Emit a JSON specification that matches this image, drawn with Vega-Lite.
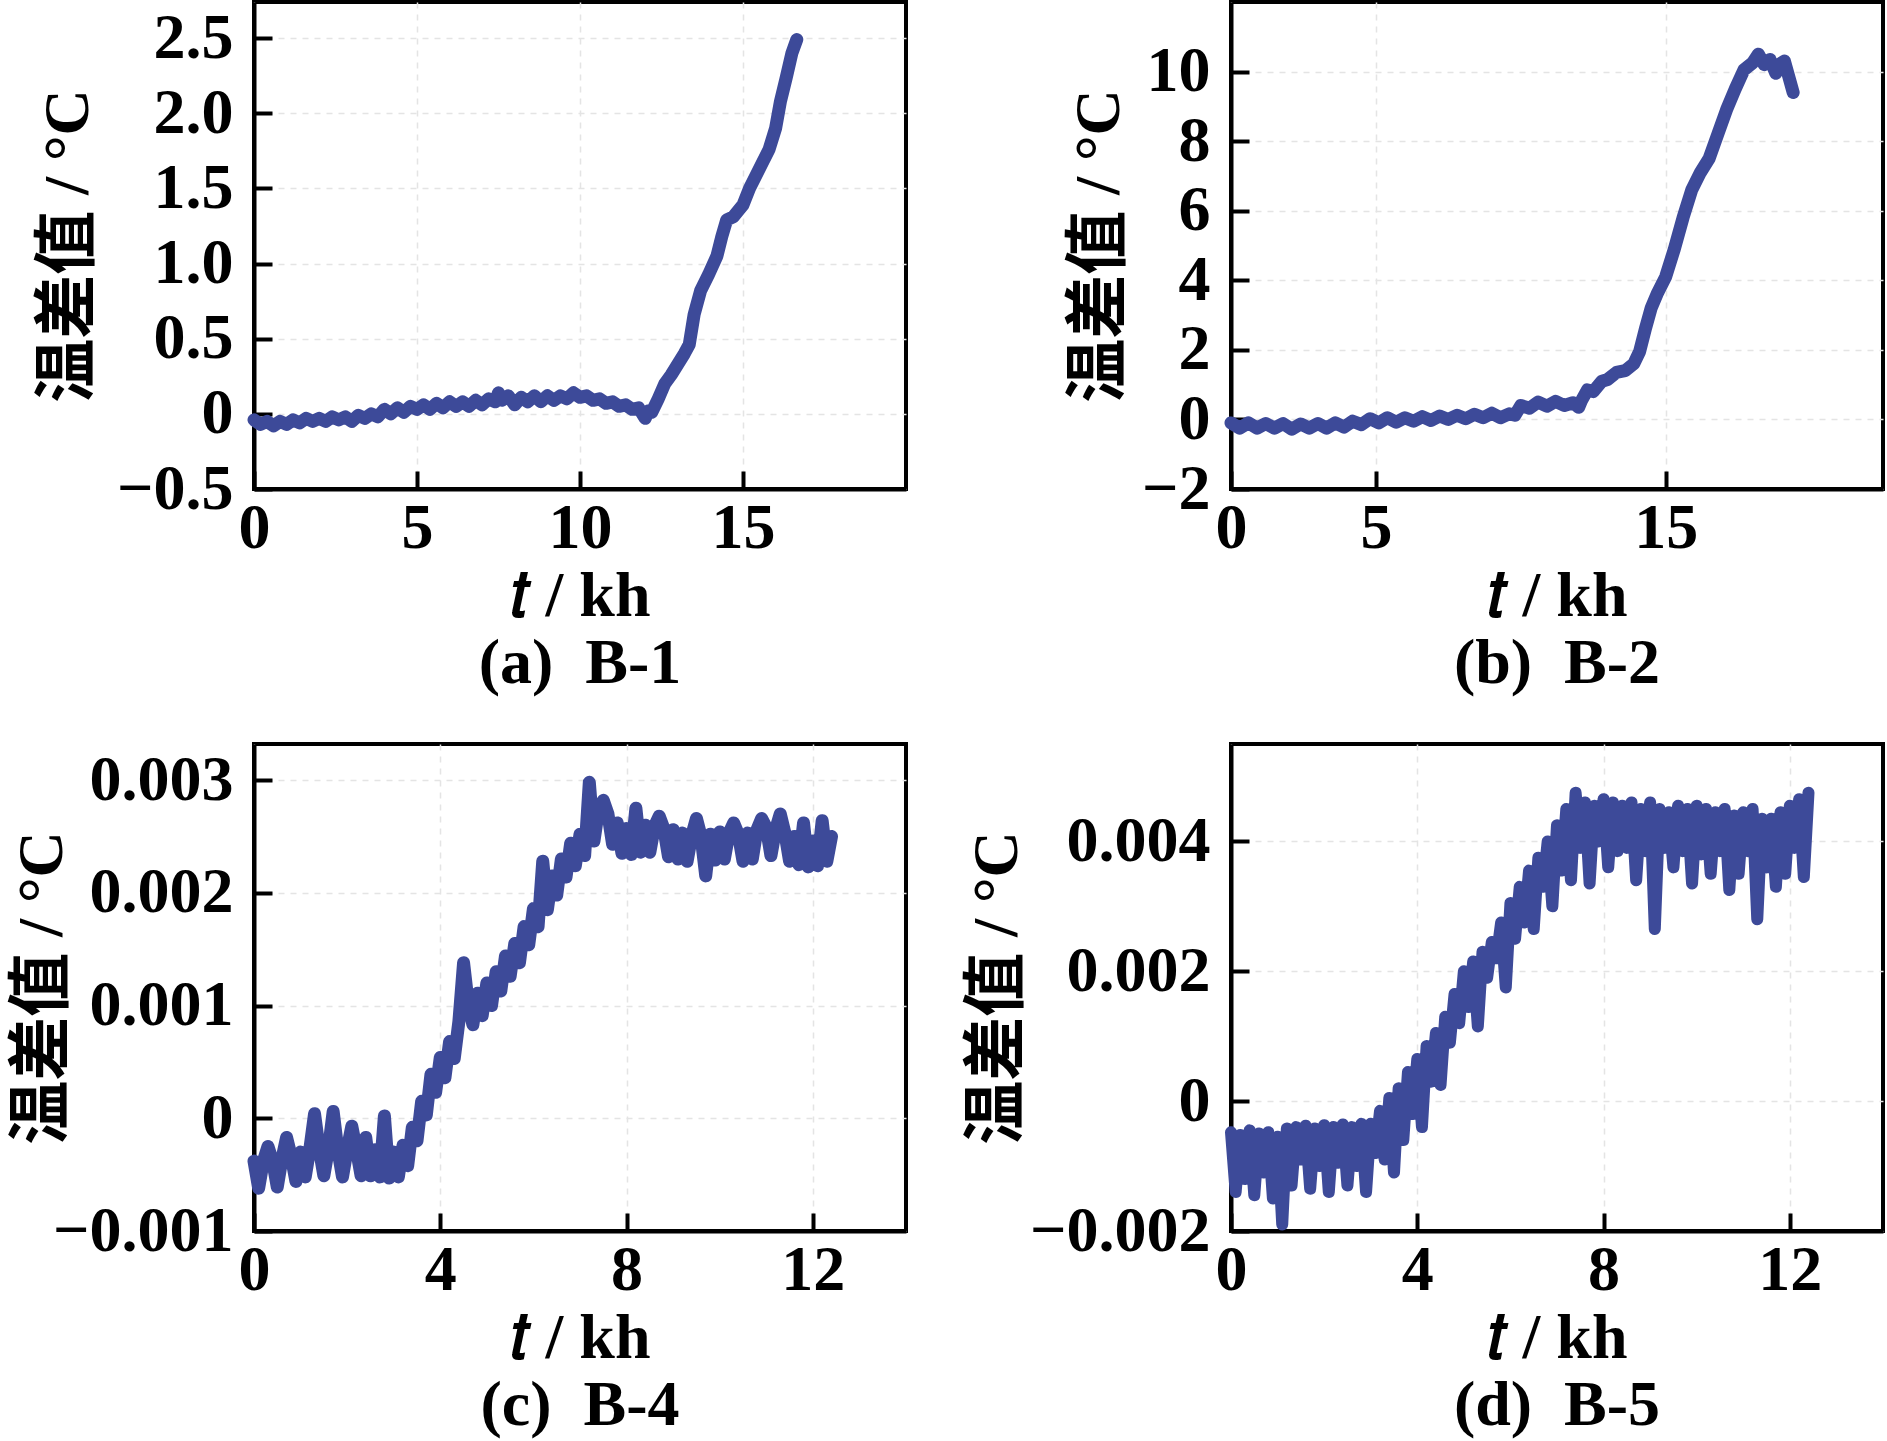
{
  "$schema": "https://vega.github.io/schema/vega-lite/v6.json",
  "background": "white",
  "padding": {"left": 7, "top": 0, "right": 5, "bottom": 0},
  "columns": 2,
  "spacing": {"row": 255, "column": 325},
  "bounds": "flush",
  "config": {
    "view": {"stroke": "black", "strokeWidth": 4},
    "axis": {
      "domainColor": "black", "domainWidth": 4,
      "tickColor": "black", "tickWidth": 4, "tickSize": -18,
      "labelFont": "Liberation Serif", "labelFontSize": 64, "labelFontWeight": "bold", "labelColor": "black",
      "labelFlush": false, "labelOverlap": false, "labelBound": false, "labelLimit": 0,
      "titleFont": "Liberation Serif, Noto Sans CJK SC", "titleFontSize": 64,
      "titleFontWeight": "bold", "titleColor": "black",
      "grid": true, "gridColor": "#e4e4e4", "gridDash": [6, 6], "gridWidth": 1.5
    },
    "axisX": {"labelPadding": 25, "titleBaseline": "alphabetic", "titleY": 126},
    "axisY": {"labelPadding": 39},
    "title": {
      "font": "Liberation Serif", "fontSize": 64, "fontWeight": "bold",
      "color": "black", "orient": "bottom", "anchor": "middle", "offset": 4
    },
    "line": {"color": "#3d4a99", "strokeWidth": 13, "strokeJoin": "round", "strokeCap": "round"}
  },
  "datasets": {
    "a": [
      {"t":0,"v":-0.04},{"t":0.2,"v":-0.07},{"t":0.4,"v":-0.05},{"t":0.6,"v":-0.08},{"t":0.8,"v":-0.05},
      {"t":1,"v":-0.07},{"t":1.2,"v":-0.04},{"t":1.4,"v":-0.06},{"t":1.6,"v":-0.03},{"t":1.8,"v":-0.05},
      {"t":2,"v":-0.03},{"t":2.2,"v":-0.05},{"t":2.4,"v":-0.02},{"t":2.6,"v":-0.04},{"t":2.8,"v":-0.02},
      {"t":3,"v":-0.05},{"t":3.2,"v":-0.01},{"t":3.4,"v":-0.03},{"t":3.6,"v":0},{"t":3.8,"v":-0.02},
      {"t":4,"v":0.03},{"t":4.2,"v":0},{"t":4.4,"v":0.04},{"t":4.6,"v":0.01},{"t":4.8,"v":0.05},
      {"t":5,"v":0.03},{"t":5.2,"v":0.06},{"t":5.4,"v":0.03},{"t":5.6,"v":0.07},{"t":5.8,"v":0.04},
      {"t":6,"v":0.08},{"t":6.2,"v":0.05},{"t":6.4,"v":0.08},{"t":6.6,"v":0.05},{"t":6.8,"v":0.09},
      {"t":7,"v":0.06},{"t":7.2,"v":0.1},{"t":7.4,"v":0.08},{"t":7.5,"v":0.14},{"t":7.6,"v":0.09},
      {"t":7.8,"v":0.12},{"t":8,"v":0.06},{"t":8.2,"v":0.11},{"t":8.4,"v":0.08},{"t":8.6,"v":0.12},
      {"t":8.8,"v":0.08},{"t":9,"v":0.12},{"t":9.2,"v":0.09},{"t":9.4,"v":0.12},{"t":9.6,"v":0.1},
      {"t":9.8,"v":0.14},{"t":10,"v":0.11},{"t":10.2,"v":0.12},{"t":10.4,"v":0.09},{"t":10.6,"v":0.1},
      {"t":10.8,"v":0.07},{"t":11,"v":0.08},{"t":11.2,"v":0.05},{"t":11.4,"v":0.06},{"t":11.6,"v":0.03},
      {"t":11.8,"v":0.04},{"t":12,"v":-0.03},{"t":12.1,"v":0.02},{"t":12.2,"v":0.01},{"t":12.4,"v":0.1},
      {"t":12.6,"v":0.2},{"t":12.8,"v":0.26},{"t":13,"v":0.33},{"t":13.2,"v":0.4},{"t":13.35,"v":0.46},
      {"t":13.5,"v":0.66},{"t":13.7,"v":0.82},{"t":13.95,"v":0.93},{"t":14.2,"v":1.05},{"t":14.35,"v":1.18},
      {"t":14.5,"v":1.29},{"t":14.7,"v":1.31},{"t":15,"v":1.39},{"t":15.2,"v":1.5},{"t":15.5,"v":1.63},
      {"t":15.8,"v":1.76},{"t":16,"v":1.9},{"t":16.15,"v":2.08},{"t":16.33,"v":2.24},{"t":16.5,"v":2.4},
      {"t":16.65,"v":2.49}
    ],
    "b": [
      {"t":0,"v":-0.1},{"t":0.3,"v":-0.25},{"t":0.6,"v":-0.1},{"t":0.9,"v":-0.25},{"t":1.2,"v":-0.12},
      {"t":1.5,"v":-0.25},{"t":1.8,"v":-0.12},{"t":2.1,"v":-0.28},{"t":2.4,"v":-0.13},{"t":2.7,"v":-0.25},
      {"t":3,"v":-0.12},{"t":3.3,"v":-0.25},{"t":3.6,"v":-0.1},{"t":3.9,"v":-0.22},{"t":4.2,"v":-0.05},
      {"t":4.5,"v":-0.15},{"t":4.8,"v":0.02},{"t":5.1,"v":-0.1},{"t":5.4,"v":0.05},{"t":5.7,"v":-0.08},
      {"t":6,"v":0.05},{"t":6.3,"v":-0.05},{"t":6.6,"v":0.08},{"t":6.9,"v":-0.03},{"t":7.2,"v":0.1},
      {"t":7.5,"v":0},{"t":7.8,"v":0.12},{"t":8.1,"v":0.02},{"t":8.4,"v":0.15},{"t":8.7,"v":0.05},
      {"t":9,"v":0.18},{"t":9.3,"v":0.05},{"t":9.6,"v":0.16},{"t":9.8,"v":0.12},{"t":10,"v":0.4},
      {"t":10.3,"v":0.32},{"t":10.6,"v":0.5},{"t":10.9,"v":0.38},{"t":11.2,"v":0.52},{"t":11.5,"v":0.4},
      {"t":11.8,"v":0.48},{"t":12,"v":0.35},{"t":12.1,"v":0.55},{"t":12.3,"v":0.85},{"t":12.5,"v":0.8},
      {"t":12.8,"v":1.1},{"t":13,"v":1.15},{"t":13.3,"v":1.35},{"t":13.6,"v":1.4},{"t":13.9,"v":1.6},
      {"t":14.1,"v":1.95},{"t":14.3,"v":2.6},{"t":14.5,"v":3.2},{"t":14.7,"v":3.6},{"t":15,"v":4.1},
      {"t":15.3,"v":4.9},{"t":15.6,"v":5.8},{"t":15.9,"v":6.6},{"t":16.2,"v":7.1},{"t":16.5,"v":7.5},
      {"t":16.8,"v":8.2},{"t":17.1,"v":8.9},{"t":17.4,"v":9.5},{"t":17.7,"v":10.05},{"t":18,"v":10.25},
      {"t":18.2,"v":10.5},{"t":18.4,"v":10.2},{"t":18.6,"v":10.35},{"t":18.8,"v":9.95},{"t":19,"v":10.25},
      {"t":19.1,"v":10.3},{"t":19.3,"v":9.7},{"t":19.4,"v":9.4}
    ],
    "c": [
      {"t":0,"v":-0.00038},{"t":0.1,"v":-0.00062},{"t":0.2,"v":-0.00038},{"t":0.3,"v":-0.00025},{"t":0.4,"v":-0.00038},
      {"t":0.5,"v":-0.00061},{"t":0.6,"v":-0.00036},{"t":0.7,"v":-0.00017},{"t":0.8,"v":-0.00034},{"t":0.9,"v":-0.00056},
      {"t":1,"v":-0.0003},{"t":1.1,"v":-0.00052},{"t":1.2,"v":-0.00027},{"t":1.3,"v":0.00004},{"t":1.4,"v":-0.00027},
      {"t":1.5,"v":-0.00051},{"t":1.6,"v":-0.00027},{"t":1.7,"v":0.00006},{"t":1.8,"v":-0.00028},{"t":1.9,"v":-0.00052},
      {"t":2,"v":-0.00028},{"t":2.1,"v":-0.00007},{"t":2.2,"v":-0.00028},{"t":2.3,"v":-0.00051},{"t":2.4,"v":-0.00017},
      {"t":2.5,"v":-0.00051},{"t":2.6,"v":-0.00028},{"t":2.7,"v":-0.00052},{"t":2.8,"v":0.00002},{"t":2.9,"v":-0.00053},
      {"t":3,"v":-0.0003},{"t":3.1,"v":-0.00052},{"t":3.2,"v":-0.00024},{"t":3.3,"v":-0.00042},{"t":3.4,"v":-0.00008},
      {"t":3.5,"v":-0.0002},{"t":3.6,"v":0.00015},{"t":3.7,"v":0.00003},{"t":3.8,"v":0.00039},{"t":3.9,"v":0.00023},
      {"t":4,"v":0.00054},{"t":4.1,"v":0.00036},{"t":4.2,"v":0.00068},{"t":4.3,"v":0.00053},{"t":4.4,"v":0.00086},
      {"t":4.5,"v":0.00138},{"t":4.6,"v":0.00102},{"t":4.7,"v":0.00083},{"t":4.8,"v":0.00111},{"t":4.9,"v":0.00091},
      {"t":5,"v":0.0012},{"t":5.1,"v":0.001},{"t":5.2,"v":0.0013},{"t":5.3,"v":0.00113},{"t":5.4,"v":0.00144},
      {"t":5.5,"v":0.00126},{"t":5.6,"v":0.00155},{"t":5.7,"v":0.00138},{"t":5.8,"v":0.0017},{"t":5.9,"v":0.00154},
      {"t":6,"v":0.00186},{"t":6.1,"v":0.0017},{"t":6.2,"v":0.00228},{"t":6.3,"v":0.00185},{"t":6.4,"v":0.00215},
      {"t":6.5,"v":0.00198},{"t":6.6,"v":0.0023},{"t":6.7,"v":0.00214},{"t":6.8,"v":0.00244},{"t":6.9,"v":0.00224},
      {"t":7,"v":0.00252},{"t":7.1,"v":0.00233},{"t":7.2,"v":0.00298},{"t":7.3,"v":0.00246},{"t":7.4,"v":0.00274},
      {"t":7.5,"v":0.00282},{"t":7.6,"v":0.0027},{"t":7.7,"v":0.00243},{"t":7.8,"v":0.00262},{"t":7.9,"v":0.00235},
      {"t":8,"v":0.00257},{"t":8.1,"v":0.00234},{"t":8.2,"v":0.00275},{"t":8.3,"v":0.00236},{"t":8.4,"v":0.0026},
      {"t":8.5,"v":0.00236},{"t":8.6,"v":0.00259},{"t":8.7,"v":0.00268},{"t":8.8,"v":0.00257},{"t":8.9,"v":0.00232},
      {"t":9,"v":0.00256},{"t":9.1,"v":0.0023},{"t":9.2,"v":0.00253},{"t":9.3,"v":0.00228},{"t":9.4,"v":0.00251},
      {"t":9.5,"v":0.00266},{"t":9.6,"v":0.0025},{"t":9.7,"v":0.00215},{"t":9.8,"v":0.00252},{"t":9.9,"v":0.00229},
      {"t":10,"v":0.00254},{"t":10.1,"v":0.0023},{"t":10.2,"v":0.00253},{"t":10.3,"v":0.00262},{"t":10.4,"v":0.00252},
      {"t":10.5,"v":0.00228},{"t":10.6,"v":0.00253},{"t":10.7,"v":0.0023},{"t":10.8,"v":0.00256},{"t":10.9,"v":0.00266},
      {"t":11,"v":0.00258},{"t":11.1,"v":0.00233},{"t":11.2,"v":0.00256},{"t":11.3,"v":0.0027},{"t":11.4,"v":0.00253},
      {"t":11.5,"v":0.00228},{"t":11.6,"v":0.0025},{"t":11.7,"v":0.00225},{"t":11.8,"v":0.00262},{"t":11.9,"v":0.00223},
      {"t":12,"v":0.00246},{"t":12.1,"v":0.00224},{"t":12.2,"v":0.00264},{"t":12.3,"v":0.00228},{"t":12.4,"v":0.0025}
    ],
    "d": [
      {"t":0,"v":-0.00048},{"t":0.1,"v":-0.0014},{"t":0.2,"v":-0.00052},{"t":0.3,"v":-0.0012},{"t":0.4,"v":-0.00045},
      {"t":0.5,"v":-0.00145},{"t":0.6,"v":-0.0005},{"t":0.7,"v":-0.0011},{"t":0.8,"v":-0.00048},{"t":0.9,"v":-0.0015},
      {"t":1,"v":-0.00055},{"t":1.1,"v":-0.0019},{"t":1.2,"v":-0.00042},{"t":1.3,"v":-0.0013},{"t":1.4,"v":-0.0004},
      {"t":1.5,"v":-0.0009},{"t":1.6,"v":-0.00038},{"t":1.7,"v":-0.00135},{"t":1.8,"v":-0.00042},{"t":1.9,"v":-0.001},
      {"t":2,"v":-0.00037},{"t":2.1,"v":-0.0014},{"t":2.2,"v":-0.0004},{"t":2.3,"v":-0.00095},{"t":2.4,"v":-0.00036},
      {"t":2.5,"v":-0.0013},{"t":2.6,"v":-0.0004},{"t":2.7,"v":-0.001},{"t":2.8,"v":-0.00035},{"t":2.9,"v":-0.0014},
      {"t":3,"v":-0.00035},{"t":3.1,"v":-0.0008},{"t":3.2,"v":-0.00015},{"t":3.3,"v":-0.0009},{"t":3.4,"v":0.00005},
      {"t":3.5,"v":-0.0011},{"t":3.6,"v":0.0002},{"t":3.7,"v":-0.0006},{"t":3.8,"v":0.00045},{"t":3.9,"v":-0.0002},
      {"t":4,"v":0.00065},{"t":4.1,"v":-0.0004},{"t":4.2,"v":0.00085},{"t":4.3,"v":0.0003},{"t":4.4,"v":0.00105},
      {"t":4.5,"v":0.00025},{"t":4.6,"v":0.0013},{"t":4.7,"v":0.0009},{"t":4.8,"v":0.00165},{"t":4.9,"v":0.0012},
      {"t":5,"v":0.002},{"t":5.1,"v":0.00145},{"t":5.2,"v":0.00215},{"t":5.3,"v":0.00115},{"t":5.4,"v":0.0023},
      {"t":5.5,"v":0.0019},{"t":5.6,"v":0.00245},{"t":5.7,"v":0.0022},{"t":5.8,"v":0.00275},{"t":5.9,"v":0.00175},
      {"t":6,"v":0.00305},{"t":6.1,"v":0.0025},{"t":6.2,"v":0.0033},{"t":6.3,"v":0.00275},{"t":6.4,"v":0.00355},
      {"t":6.5,"v":0.00265},{"t":6.6,"v":0.00375},{"t":6.7,"v":0.0033},{"t":6.8,"v":0.004},{"t":6.9,"v":0.003},
      {"t":7,"v":0.00425},{"t":7.1,"v":0.00355},{"t":7.2,"v":0.0045},{"t":7.3,"v":0.0034},{"t":7.4,"v":0.00475},
      {"t":7.5,"v":0.0039},{"t":7.6,"v":0.0046},{"t":7.7,"v":0.00335},{"t":7.8,"v":0.00455},{"t":7.9,"v":0.004},
      {"t":8,"v":0.00465},{"t":8.1,"v":0.0036},{"t":8.2,"v":0.0046},{"t":8.3,"v":0.00385},{"t":8.4,"v":0.00455},
      {"t":8.5,"v":0.0039},{"t":8.6,"v":0.0046},{"t":8.7,"v":0.0034},{"t":8.8,"v":0.0045},{"t":8.9,"v":0.00385},
      {"t":9,"v":0.0046},{"t":9.1,"v":0.00265},{"t":9.2,"v":0.0045},{"t":9.3,"v":0.0039},{"t":9.4,"v":0.00445},
      {"t":9.5,"v":0.0036},{"t":9.6,"v":0.00455},{"t":9.7,"v":0.00385},{"t":9.8,"v":0.0045},{"t":9.9,"v":0.00335},
      {"t":10,"v":0.00455},{"t":10.1,"v":0.0038},{"t":10.2,"v":0.0045},{"t":10.3,"v":0.0035},{"t":10.4,"v":0.00445},
      {"t":10.5,"v":0.00385},{"t":10.6,"v":0.0045},{"t":10.7,"v":0.00325},{"t":10.8,"v":0.0044},{"t":10.9,"v":0.0035},
      {"t":11,"v":0.00445},{"t":11.1,"v":0.00385},{"t":11.2,"v":0.0045},{"t":11.3,"v":0.0028},{"t":11.4,"v":0.00435},
      {"t":11.5,"v":0.0036},{"t":11.6,"v":0.00435},{"t":11.7,"v":0.0033},{"t":11.8,"v":0.00445},{"t":11.9,"v":0.0035},
      {"t":12,"v":0.00455},{"t":12.1,"v":0.0039},{"t":12.2,"v":0.00465},{"t":12.3,"v":0.00345},{"t":12.4,"v":0.00475}
    ]
  },
  "concat": [
    {
      "width": 652, "height": 487,
      "data": {"name": "a"},
      "title": "(a)\u00a0\u00a0B-1",
      "mark": "line",
      "encoding": {
        "x": {"field": "t", "type": "quantitative",
          "scale": {"domain": [0, 20], "nice": false},
          "axis": {"values": [0, 5, 10, 15], "format": "d", "title": "𝑡 / kh"}},
        "y": {"field": "v", "type": "quantitative",
          "scale": {"domain": [-0.5, 2.74], "nice": false, "zero": false},
          "axis": {"values": [-0.5, 0, 0.5, 1, 1.5, 2, 2.5],
            "labelExpr": "datum.value == 0 ? '0' : format(datum.value, '.1f')",
            "title": "温差值 / °C", "titleX": -154}}
      }
    },
    {
      "width": 652, "height": 487,
      "data": {"name": "b"},
      "title": "(b)\u00a0\u00a0B-2",
      "mark": "line",
      "encoding": {
        "x": {"field": "t", "type": "quantitative",
          "scale": {"domain": [0, 22.5], "nice": false},
          "axis": {"values": [0, 5, 15], "format": "d", "title": "𝑡 / kh"}},
        "y": {"field": "v", "type": "quantitative",
          "scale": {"domain": [-2, 12], "nice": false, "zero": false},
          "axis": {"values": [-2, 0, 2, 4, 6, 8, 10], "format": "d",
            "title": "温差值 / °C", "titleX": -100}}
      }
    },
    {
      "width": 652, "height": 487,
      "data": {"name": "c"},
      "title": "(c)\u00a0\u00a0B-4",
      "mark": {"type": "line", "strokeWidth": 13},
      "encoding": {
        "x": {"field": "t", "type": "quantitative",
          "scale": {"domain": [0, 14], "nice": false},
          "axis": {"values": [0, 4, 8, 12], "format": "d", "title": "𝑡 / kh"}},
        "y": {"field": "v", "type": "quantitative",
          "scale": {"domain": [-0.001, 0.00332], "nice": false, "zero": false},
          "axis": {"values": [-0.001, 0, 0.001, 0.002, 0.003],
            "labelExpr": "datum.value == 0 ? '0' : format(datum.value, '.3f')",
            "title": "温差值 / °C", "titleX": -180}}
      }
    },
    {
      "width": 652, "height": 487,
      "data": {"name": "d"},
      "title": "(d)\u00a0\u00a0B-5",
      "mark": {"type": "line", "strokeWidth": 12},
      "encoding": {
        "x": {"field": "t", "type": "quantitative",
          "scale": {"domain": [0, 14], "nice": false},
          "axis": {"values": [0, 4, 8, 12], "format": "d", "title": "𝑡 / kh"}},
        "y": {"field": "v", "type": "quantitative",
          "scale": {"domain": [-0.002, 0.0055], "nice": false, "zero": false},
          "axis": {"values": [-0.002, 0, 0.002, 0.004],
            "labelExpr": "datum.value == 0 ? '0' : format(datum.value, '.3f')",
            "title": "温差值 / °C", "titleX": -202}}
      }
    }
  ]
}
